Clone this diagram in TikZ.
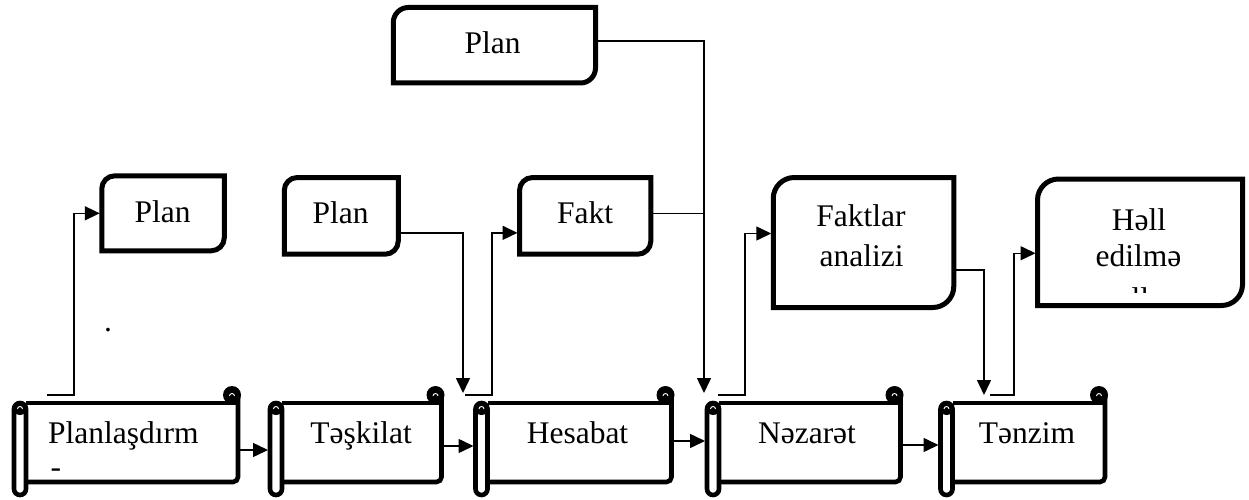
\documentclass[tikz,border=0pt]{standalone}
\usepackage{fontspec}
\setmainfont{Liberation Serif}
\usetikzlibrary{arrows.meta}

\tikzset{
  box/.style={rectangle, draw=none, inner sep=0pt, outer sep=0pt},
  lbl/.style={inner sep=0pt, anchor=base, font=\fontsize{31.5}{38}\selectfont},
  outline/.style={line width=5pt},
  scrollline/.style={line width=4.6pt},
  conn/.style={line width=1.5pt},
  arr/.style={conn, -{Triangle[length=15pt,width=14pt]}, shorten >=2pt},
}

% box whose top-left and bottom-right corners are rounded
\newcommand\cornerbox[2]{%
  \draw[outline] (#1.north east) -- ([yshift=#2]#1.south east)
    arc[start angle=0, end angle=-90, radius=#2] -- (#1.south west)
    -- ([yshift=-#2]#1.north west) arc[start angle=180, end angle=90, radius=#2] -- cycle;}

% horizontal scroll: #1 body node, #2 left roll node
\newcommand\scrollshape[2]{%
  \draw[scrollline] (#1.north west) -- (#1.north east);
  \draw[scrollline, rounded corners=5pt] ([yshift=8pt]#1.north east) -- (#1.south east) -- (#1.south west);
  \fill ([shift={(-6pt,8pt)}]#1.north east) circle[radius=9pt];
  \draw[white, line width=0.9pt] ([shift={(-3.5pt,7pt)}]#1.north east) arc[start angle=0, end angle=180, radius=2.5pt];
  \draw[scrollline, rounded corners=6pt, fill=white] (#2.south west) rectangle (#2.north east);
  \fill ([yshift=-5pt]#2.north) circle[radius=7pt];
  \draw[white, line width=0.9pt] ([shift={(2.5pt,-6pt)}]#2.north) arc[start angle=0, end angle=180, radius=2.5pt];}

\begin{document}
\begin{tikzpicture}[x=1pt, y=1pt]
\useasboundingbox (0,0) rectangle (1249,499);

% ---- scrolls along the bottom ----
\node[box, minimum width=212pt,   minimum height=79pt] (s1) at (132,56.5) {};
\node[box, minimum width=12pt,    minimum height=92pt] (r1) at (20,50) {};
\node[box, minimum width=159.5pt, minimum height=79pt] (s2) at (361.75,56.5) {};
\node[box, minimum width=12pt,    minimum height=92pt] (r2) at (276,50) {};
\node[box, minimum width=184pt,   minimum height=79pt] (s3) at (579.5,56.5) {};
\node[box, minimum width=12pt,    minimum height=92pt] (r3) at (481.5,50) {};
\node[box, minimum width=181.5pt, minimum height=79pt] (s4) at (809.75,56.5) {};
\node[box, minimum width=12pt,    minimum height=92pt] (r4) at (713,50) {};
\node[box, minimum width=152.5pt, minimum height=79pt] (s5) at (1028.75,56.5) {};
\node[box, minimum width=12pt,    minimum height=92pt] (r5) at (946.5,50) {};

\scrollshape{s1}{r1}
\scrollshape{s2}{r2}
\scrollshape{s3}{r3}
\scrollshape{s4}{r4}
\scrollshape{s5}{r5}

\node[lbl, anchor=base west] (t1) at (48,56) {Planlaşdırm};
\node[lbl, anchor=base west] (t1b) at (50.4,22) {-};
\node[lbl] (t2) at (361,56) {Təşkilat};
\node[lbl] (t3) at (577.5,56) {Hesabat};
\node[lbl] (t4) at (807,56) {Nəzarət};
\node[lbl] (t5) at (1027,56) {Tənzim};

% ---- upper boxes ----
\node[box, minimum width=122.5pt, minimum height=75pt]   (planA)   at (163,285.7) {};
\node[box, minimum width=114pt,   minimum height=76.7pt] (planB)   at (341.25,283.15) {};
\node[box, minimum width=202.2pt, minimum height=75.5pt] (planC)   at (494.4,453.75) {};
\node[box, minimum width=131.3pt, minimum height=76.7pt] (fakt)    at (585.15,283.15) {};
\node[box, minimum width=180.5pt, minimum height=130pt]  (faktlar) at (863.5,256.5) {};
\node[box, minimum width=205pt,   minimum height=126.5pt] (hell)   at (1140,256.75) {};

\cornerbox{planA}{13pt}
\cornerbox{planB}{13pt}
\cornerbox{planC}{15pt}
\cornerbox{fakt}{13pt}
\cornerbox{faktlar}{21pt}
\cornerbox{hell}{21pt}

\node[lbl] (tA) at (162.5,276.7) {Plan};
\node[lbl] (tB) at (340.5,275.7) {Plan};
\node[lbl] (tC) at (492.5,445.7) {Plan};
\node[lbl] (tF) at (585,275.7) {Fakt};
\node[lbl] (tFa) at (861,272.3) {Faktlar};
\node[lbl] (tFb) at (861.5,232.3) {analizi};
\node[lbl] (tHa) at (1139,269) {Həll};
\node[lbl] (tHb) at (1138.5,232.3) {edilmə};
\begin{scope}
  \clip (1120,207) rectangle (1160,215);
  \node[lbl, anchor=base west] (tHc) at (1131.5,189.5) {ll};
\end{scope}
\node[lbl] (dot) at (108,167.5) {.};

% ---- arrows between scrolls ----
\coordinate (e1) at ([yshift=-7.5pt]s1.east);
\coordinate (e2) at ([yshift=-3.5pt]s2.east);
\coordinate (e3) at ([yshift=1.5pt]s3.east);
\coordinate (e4) at ([yshift=-2.5pt]s4.east);
\draw[arr] (e1) -- (e1 -| r2.west);
\draw[arr] (e2) -- (e2 -| r3.west);
\draw[arr] (e3) -- (e3 -| r4.west);
\draw[arr] (e4) -- (e4 -| r5.west);

% ---- connectors to and from the upper boxes ----
\coordinate (p1) at (47,104);
\coordinate (d2) at (463,106);
\coordinate (p3) at (465,104);
\coordinate (d5) at (704,106);
\coordinate (p6) at (718,104);
\coordinate (d7) at (984,104);
\coordinate (p8) at (990,104);
\coordinate (f4) at ([yshift=2.5pt]fakt.east);

\draw[arr] (p1) -- ++(27,0) |- (planA.west);
\draw[arr, shorten >=0pt] ([yshift=-17pt]planB.east) -| (d2);
\draw[arr] (p3) -- ++(27,0) |- ([yshift=-17pt]fakt.west);
\draw[conn] (f4) -- (f4 -| d5);
\draw[arr, shorten >=0pt] ([yshift=4pt]planC.east) -| (d5);
\draw[arr] (p6) -- ++(27,0) |- ([yshift=9pt]faktlar.west);
\draw[arr, shorten >=0pt] ([yshift=-27.5pt]faktlar.east) -| (d7);
\draw[arr] (p8) -- ++(24,0) |- ([yshift=-11pt]hell.west);
\end{tikzpicture}
\end{document}
